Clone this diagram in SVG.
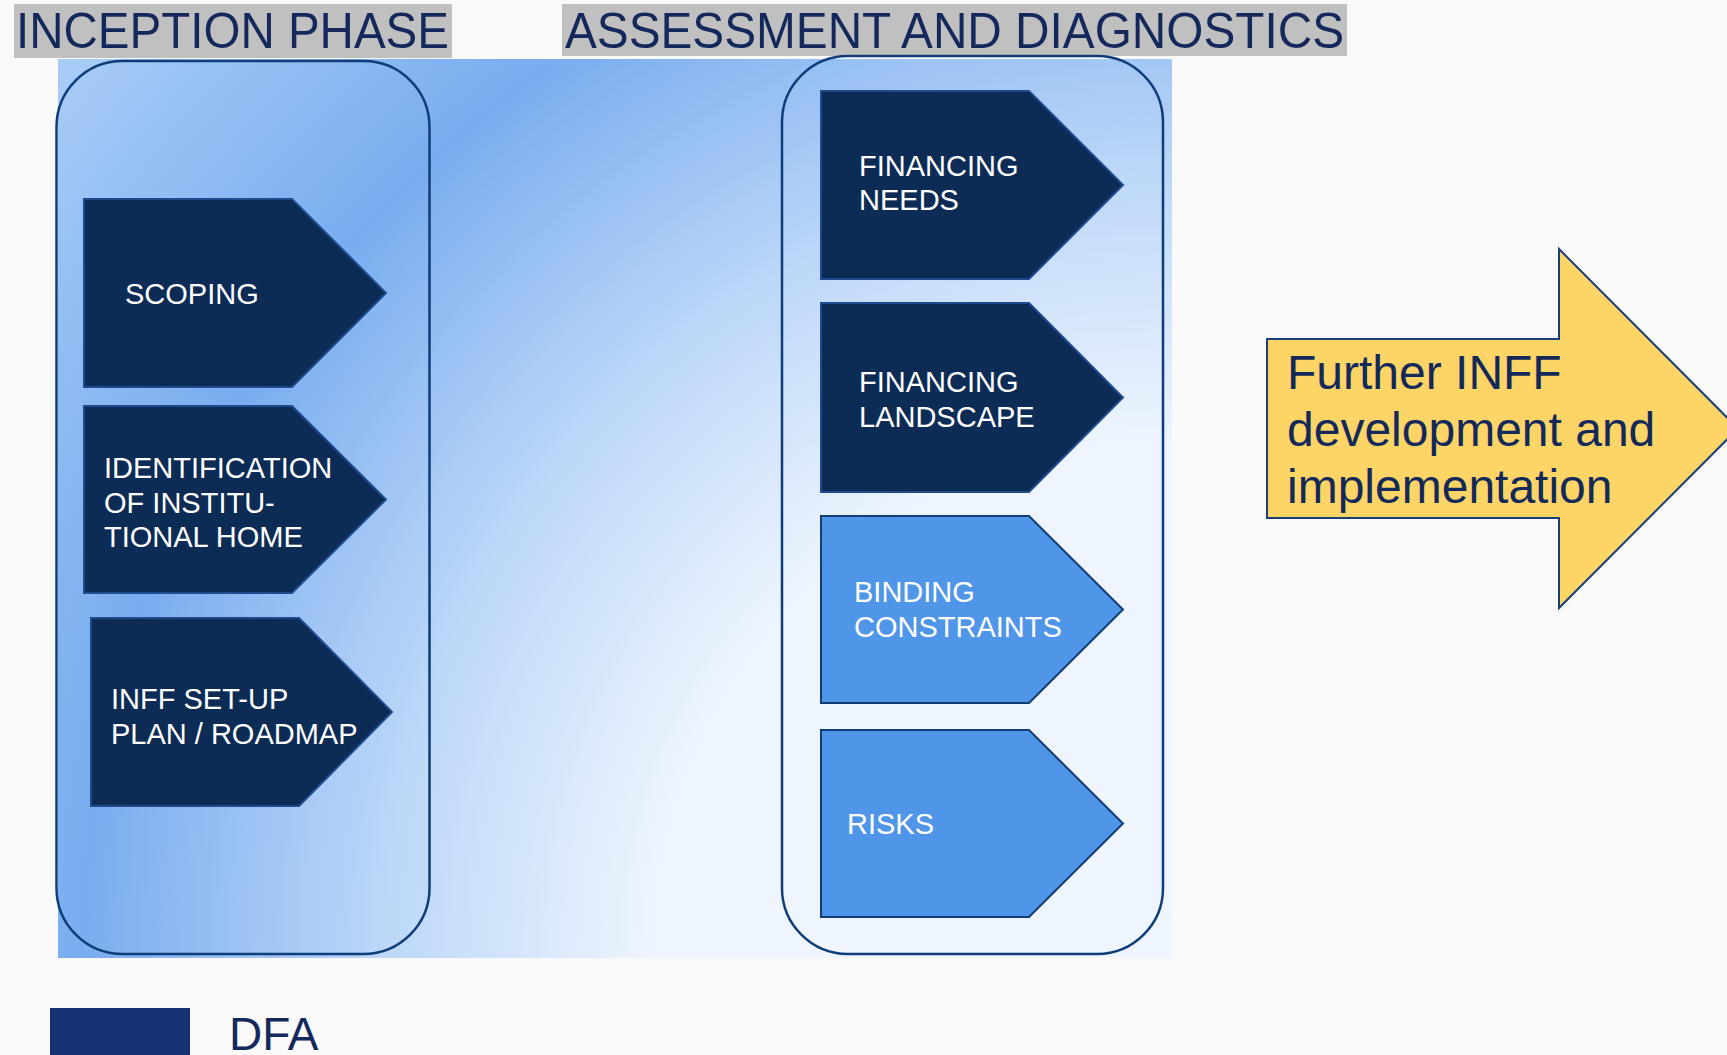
<svg xmlns="http://www.w3.org/2000/svg" width="1727" height="1055" viewBox="0 0 1727 1055">
  <defs>
    <radialGradient id="panelFill" gradientUnits="userSpaceOnUse" cx="1172" cy="958" r="1431">
      <stop offset="0" stop-color="#eef5fe"/>
      <stop offset="0.36" stop-color="#eef5fe"/>
      <stop offset="0.55" stop-color="#bcd7f8"/>
      <stop offset="0.76" stop-color="#79adef"/>
      <stop offset="1" stop-color="#a9cdf7"/>
    </radialGradient>
  </defs>
  <style>
    .heading { font-family: "Liberation Sans", Arial, sans-serif; font-size: 50px; fill: #14285c; }
    .headbox { fill: #c0c0c0; }
    .frame { fill: none; stroke: #0f3d7a; stroke-width: 2.5; }
    .step-dark { fill: #0c2b55; stroke: #1f4b8e; stroke-width: 2; }
    .step-light { fill: #4f95e8; stroke: #123d74; stroke-width: 2; }
    .label { font-family: "Liberation Sans", Arial, sans-serif; font-size: 29px; fill: #ffffff; }
    .next { fill: #fdd466; stroke: #1a3f78; stroke-width: 2; }
    .next-label { font-family: "Liberation Sans", Arial, sans-serif; font-size: 48px; fill: #13295a; }
    .legend-label { font-family: "Liberation Sans", Arial, sans-serif; font-size: 46px; fill: #14285c; }
  </style>

  <rect x="0" y="0" width="1727" height="1055" fill="#f9f9f9"/>

  <!-- shaded panel behind both phases -->
  <rect x="58" y="59" width="1114" height="899" fill="url(#panelFill)"/>

  <!-- phase headings -->
  <g id="heading-inception">
    <rect class="headbox" x="14" y="4" width="438" height="54"/>
    <text class="heading" x="16" y="48" textLength="433" lengthAdjust="spacingAndGlyphs">INCEPTION PHASE</text>
  </g>
  <g id="heading-assessment">
    <rect class="headbox" x="562" y="4" width="785" height="52"/>
    <text class="heading" x="565" y="48" textLength="779" lengthAdjust="spacingAndGlyphs">ASSESSMENT AND DIAGNOSTICS</text>
  </g>

  <!-- phase frames -->
  <g id="frame-inception">
    <rect class="frame" x="56.5" y="61" width="373" height="893" rx="66" ry="66"/>
  </g>
  <g id="frame-assessment">
    <rect class="frame" x="782" y="56" width="381" height="898" rx="66" ry="66"/>
  </g>

  <!-- inception steps -->
  <g id="step-scoping">
    <path class="step-dark" d="M84,199 H292 L386,293 L292,387 H84 Z"/>
    <text class="label" x="125" y="304">SCOPING</text>
  </g>
  <g id="step-institutional-home">
    <path class="step-dark" d="M84,406 H292 L386,499.5 L292,593 H84 Z"/>
    <text class="label" x="104" y="478">IDENTIFICATION</text>
    <text class="label" x="104" y="512.5">OF INSTITU-</text>
    <text class="label" x="104" y="547">TIONAL HOME</text>
  </g>
  <g id="step-roadmap">
    <path class="step-dark" d="M91,618 H299 L392,712 L299,806 H91 Z"/>
    <text class="label" x="111" y="709">INFF SET-UP</text>
    <text class="label" x="111" y="744">PLAN / ROADMAP</text>
  </g>

  <!-- assessment steps -->
  <g id="step-financing-needs">
    <path class="step-dark" d="M821,91 H1029 L1123,185 L1029,279 H821 Z"/>
    <text class="label" x="859" y="176">FINANCING</text>
    <text class="label" x="859" y="210">NEEDS</text>
  </g>
  <g id="step-financing-landscape">
    <path class="step-dark" d="M821,303 H1029 L1123,397.5 L1029,492 H821 Z"/>
    <text class="label" x="859" y="392">FINANCING</text>
    <text class="label" x="859" y="427">LANDSCAPE</text>
  </g>
  <g id="step-binding-constraints">
    <path class="step-light" d="M821,516 H1029 L1123,609.5 L1029,703 H821 Z"/>
    <text class="label" x="854" y="602">BINDING</text>
    <text class="label" x="854" y="637">CONSTRAINTS</text>
  </g>
  <g id="step-risks">
    <path class="step-light" d="M821,730 H1029 L1123,823.5 L1029,917 H821 Z"/>
    <text class="label" x="847" y="834">RISKS</text>
  </g>

  <!-- next stage arrow -->
  <g id="next-stage">
    <path class="next" d="M1267,339 H1559 V249 L1738,428.5 L1559,608 V518 H1267 Z"/>
    <text class="next-label" x="1287" y="389">Further INFF</text>
    <text class="next-label" x="1287" y="446">development and</text>
    <text class="next-label" x="1287" y="503">implementation</text>
  </g>

  <!-- legend -->
  <g id="legend-dfa">
    <rect x="50" y="1008" width="140" height="47" fill="#153373"/>
    <text class="legend-label" x="229" y="1050">DFA</text>
  </g>

  <g id="connectors"/>
</svg>
